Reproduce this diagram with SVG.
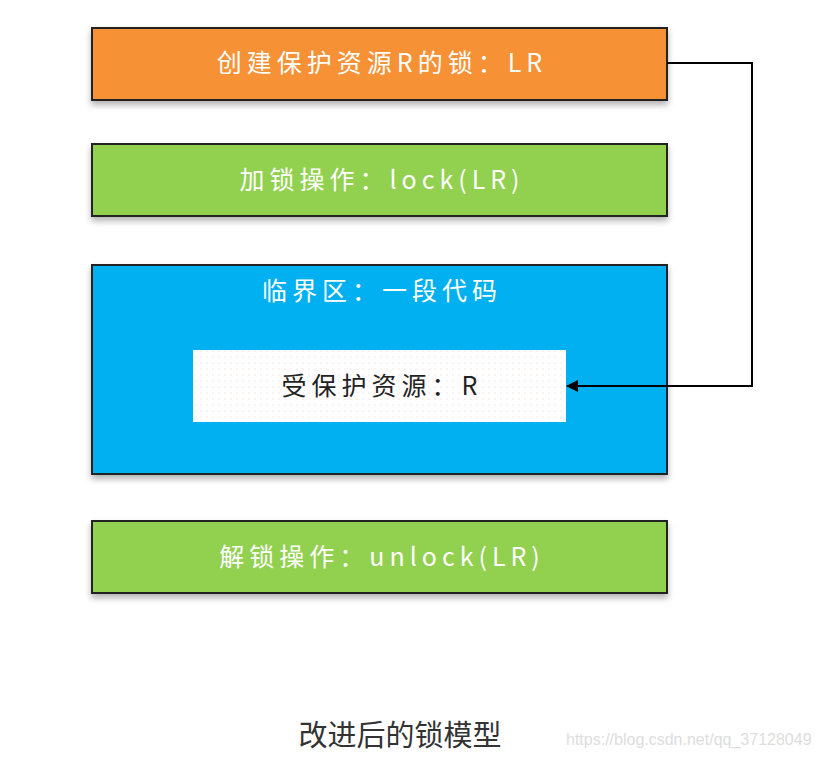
<svg xmlns="http://www.w3.org/2000/svg" width="819" height="757" viewBox="0 0 819 757">
<style>
.box{stroke:#222;stroke-width:2}
.t{font-family:"Noto Sans CJK SC","Noto Sans",sans-serif;font-size:25px;fill:#fff;text-anchor:middle;letter-spacing:5px}
</style>
<defs>
<filter id="sh" x="-5%" y="-20%" width="110%" height="150%"><feDropShadow dx="0" dy="4" stdDeviation="3" flood-color="#000" flood-opacity="0.3"/></filter>
<pattern id="dots" width="6" height="6" patternUnits="userSpaceOnUse"><rect width="6" height="6" fill="#fff"/><circle cx="3" cy="3" r="0.6" fill="#f0c8c8"/></pattern>
<marker id="ar" markerWidth="12" markerHeight="12" refX="11" refY="6" orient="auto" markerUnits="userSpaceOnUse"><path d="M0,0 L12,6 L0,12 Z" fill="#000"/></marker>
</defs>
<rect width="819" height="757" fill="#fff"/>
<g id="create"><rect class="box" x="92" y="28" width="575" height="72" fill="#f79134" filter="url(#sh)"/><text class="t" x="382" y="72">创建保护资源R的锁：LR</text></g>
<g id="lock"><rect class="box" x="92" y="144" width="575" height="72" fill="#92d050" filter="url(#sh)"/><text class="t" x="382" y="189">加锁操作：lock(LR)</text></g>
<g id="critical"><rect class="box" x="92" y="265" width="575" height="209" fill="#00b0f0" filter="url(#sh)"/><text class="t" x="382" y="300">临界区：一段代码</text></g>
<g id="resource"><rect x="193" y="350" width="373" height="72" fill="url(#dots)"/><text class="t" x="382" y="395" style="fill:#222">受保护资源：R</text></g>
<g id="unlock"><rect class="box" x="92" y="521" width="575" height="72" fill="#92d050" filter="url(#sh)"/><text class="t" x="382" y="566">解锁操作：unlock(LR)</text></g>
<g id="connectors"><path d="M667,63 H752 V386 H567" fill="none" stroke="#000" stroke-width="2" marker-end="url(#ar)"/></g>
<text x="400" y="746" font-family="Noto Sans CJK SC,sans-serif" font-size="29" fill="#333" text-anchor="middle">改进后的锁模型</text>
<text x="566" y="745" font-family="Liberation Sans,sans-serif" font-size="16" fill="#ddd">https://blog.csdn.net/qq_37128049</text>
</svg>
